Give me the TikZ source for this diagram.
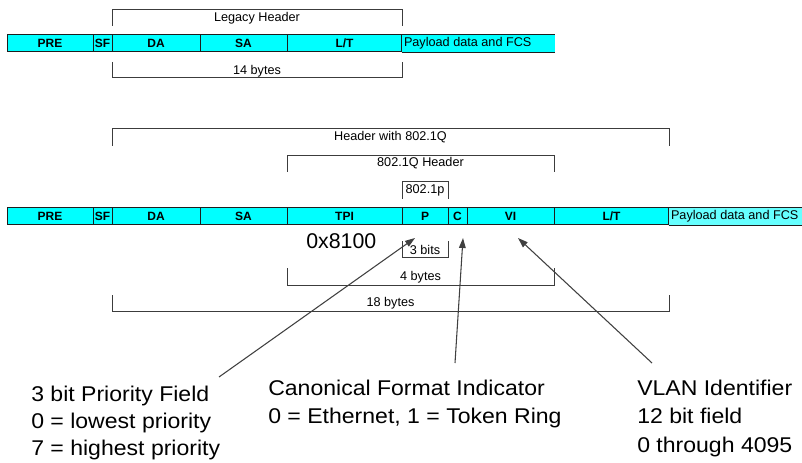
\documentclass[tikz,border=0pt]{standalone}
\usepackage{fontspec}
\setmainfont{Liberation Sans}
\newfontfamily\notefont[FakeStretch=1.08]{Liberation Sans}
\usetikzlibrary{fit,arrows.meta}

\definecolor{cellcyan}{HTML}{00FFFF}
\definecolor{paycyan}{HTML}{66FFFF}
\definecolor{celledge}{HTML}{1E1E1E}
\definecolor{brk}{HTML}{3C3C3C}
\definecolor{arrowgray}{HTML}{404040}

\begin{document}
\begin{tikzpicture}[x=0.75pt,y=-0.75pt,
  cell/.style={draw=celledge, fill=cellcyan, line width=0.75pt, inner sep=0pt,
    label={[celltext]center:#1}},
  celltext/.style={inner sep=0pt, font=\fontsize{9}{10}\selectfont\bfseries},
  payfill/.style={fill=#1, inner sep=0pt},
  paytext/.style={anchor=west, inner sep=0pt, font=\fontsize{9.5}{11}\selectfont},
  edgeline/.style={draw=celledge, line width=0.75pt},
  bracket/.style={draw=brk, line width=0.75pt},
  brlabel/.style={inner sep=0pt, font=\fontsize{9.5}{11}\selectfont},
  note/.style={anchor=base west, inner sep=0pt, font=\notefont\fontsize{16}{20}\selectfont},
  pointer/.style={draw=arrowgray, line width=0.8pt, -{Triangle[length=7.5pt,width=5pt]}}
]
\useasboundingbox (0,0) rectangle (802,463);

% ---------- legacy frame ----------
\node[cell=PRE, fit={(7,35) (93,52)}]   (pre1) {};
\node[cell=SF,  fit={(93,35) (112,52)}] (sf1)  {};
\node[cell=DA,  fit={(112,35) (200,52)}] (da1) {};
\node[cell=SA,  fit={(200,35) (287,52)}] (sa1) {};
\node[cell=L/T, fit={(287,35) (402,52)}] (lt1) {};
\node[payfill=cellcyan, fit={(402,35) (555,52)}] (pay1) {};
\draw[edgeline] (pay1.north west) -- (pay1.north east)
                (pay1.south west) -- (pay1.south east)
                (pay1.north west) -- (pay1.south west);
\node[paytext] (pay1t) at ([xshift=1.5pt]pay1.west) {Payload data and FCS};

\draw[bracket] (112,26) -- (112,10) -- (402,10) -- (402,26);
\node[brlabel] (legacy) at (257,18) {Legacy Header};
\draw[bracket] (112,62) -- (112,78) -- (402,78) -- (402,62);
\node[brlabel] (bytes14) at (257,71) {14 bytes};

% ---------- tagged frame ----------
\node[cell=PRE, fit={(7,208) (93,225)}]    (pre2) {};
\node[cell=SF,  fit={(93,208) (112,225)}]  (sf2)  {};
\node[cell=DA,  fit={(112,208) (200,225)}] (da2)  {};
\node[cell=SA,  fit={(200,208) (287,225)}] (sa2)  {};
\node[cell=TPI, fit={(287,208) (402,225)}] (tpi)  {};
\node[cell=P,   fit={(402,208) (448,225)}] (pcp)  {};
\node[cell=C,   fit={(448,208) (467,225)}] (cfi)  {};
\node[cell=VI,  fit={(467,208) (554,225)}] (vid)  {};
\node[cell=L/T, fit={(554,208) (669,225)}] (lt2)  {};
\node[payfill=paycyan, fit={(669,208) (802,225)}] (pay2) {};
\draw[edgeline] (pay2.north west) -- (pay2.north east)
                (pay2.south west) -- (pay2.south east)
                (pay2.north west) -- (pay2.south west);
\node[paytext] (pay2t) at ([xshift=1.5pt]pay2.west) {Payload data and FCS};

% brackets above
\draw[bracket] (112,146) -- (112,129) -- (669,129) -- (669,146);
\node[brlabel] (hdrq) at (390.5,137) {Header with 802.1Q};
\draw[bracket] (287,172) -- (287,156) -- (554,156) -- (554,172);
\node[brlabel] (qhdr) at (420.5,163.5) {802.1Q Header};
\draw[bracket] (402,199) -- (402,182) -- (448,182) -- (448,199);
\node[brlabel] (dotp) at (425,190.5) {802.1p};

% brackets below
\node[anchor=base west, inner sep=0pt, font=\fontsize{16}{20}\selectfont] (tpid) at (306,248) {0x8100};
\draw[bracket] (402,241) -- (402,257) -- (448,257) -- (448,241);
\node[brlabel] (bits3) at (425,250) {3 bits};
\draw[bracket] (287,268) -- (287,285) -- (554,285) -- (554,268);
\node[brlabel] (bytes4) at (420.5,277) {4 bytes};
\draw[bracket] (112,295) -- (112,311) -- (669,311) -- (669,295);
\node[brlabel] (bytes18) at (390.5,303) {18 bytes};

% ---------- field notes ----------
\node[note] (pri1) at (31,401) {3 bit Priority Field};
\node[note] (pri2) at (31,428.5) {0 = lowest priority};
\node[note] (pri3) at (31,455.5) {7 = highest priority};

\node[note] (cfi1) at (268,395) {Canonical Format Indicator};
\node[note] (cfi2) at (268,423) {0 = Ethernet, 1 = Token Ring};

\node[note] (vid1) at (637,395) {VLAN Identifier};
\node[note] (vid2) at (637,423.5) {12 bit field};
\node[note] (vid3) at (637,452) {0 through 4095};

% ---------- pointers ----------
\coordinate (pTail) at (219,377);
\coordinate (pTip)  at (415,238);
\coordinate (cTail) at (455,363);
\coordinate (cTip)  at (463,238);
\coordinate (vTail) at (652,363);
\coordinate (vTip)  at (518,238);
\draw[pointer] (pTail) -- (pTip);
\draw[pointer] (cTail) -- (cTip);
\draw[pointer] (vTail) -- (vTip);
\end{tikzpicture}
\end{document}
